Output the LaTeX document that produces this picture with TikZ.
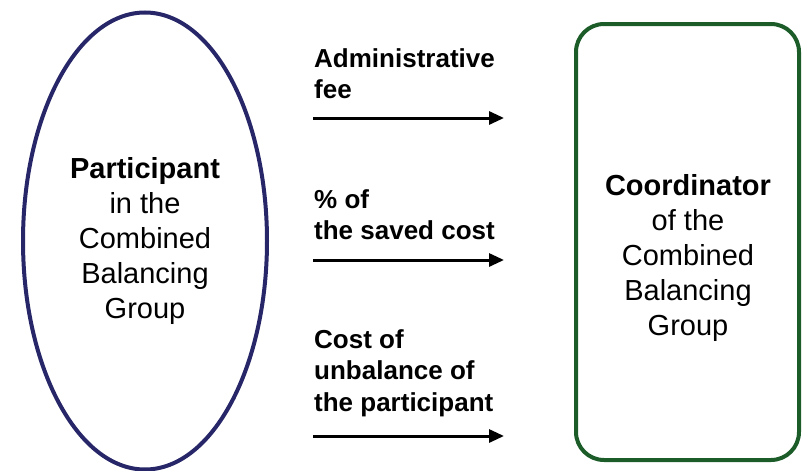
\documentclass[tikz,border=0pt]{standalone}
\usepackage{fontspec}
\setmainfont{Liberation Sans}
\usetikzlibrary{shapes.geometric,arrows.meta}
\definecolor{navy}{RGB}{38,38,104}
\definecolor{dgreen}{RGB}{28,92,40}
\begin{document}
\begin{tikzpicture}[x=1pt,y=-1pt,
  bodytext/.style={font=\fontsize{29}{35}\selectfont,align=center,inner sep=0pt},
  flowlabel/.style={font=\fontsize{26}{31.5}\selectfont\bfseries,align=left,anchor=north west,inner sep=0pt},
  flowarrow/.style={line width=3pt,-{Triangle[length=15pt,width=13pt]}}]
\useasboundingbox (0,0) rectangle (806,471);
\node[ellipse,draw=navy,line width=4pt,minimum width=244pt,minimum height=457pt,bodytext] (part) at (145,241)
  {\textbf{Participant}\\in the\\Combined\\Balancing\\Group};
\node[rectangle,rounded corners=28pt,draw=dgreen,line width=4pt,minimum width=223pt,minimum height=436pt] (coord) at (687.5,242) {};
\node[bodytext] (ctext) at (688,258) {\textbf{Coordinator}\\of the\\Combined\\Balancing\\Group};
\node[flowlabel] (l1) at (314,48) {Administrative\\fee};
\node[flowlabel] (l2) at (314,189) {\% of\\the saved cost};
\node[flowlabel] (l3) at (314,329) {Cost of\\unbalance of\\the participant};
\coordinate (a1s) at (313,118); \coordinate (a1e) at (504,118);
\coordinate (a2s) at (313,260); \coordinate (a2e) at (504,260);
\coordinate (a3s) at (313,436); \coordinate (a3e) at (504,436);
\draw[flowarrow] (a1s) -- (a1e);
\draw[flowarrow] (a2s) -- (a2e);
\draw[flowarrow] (a3s) -- (a3e);
\end{tikzpicture}
\end{document}
